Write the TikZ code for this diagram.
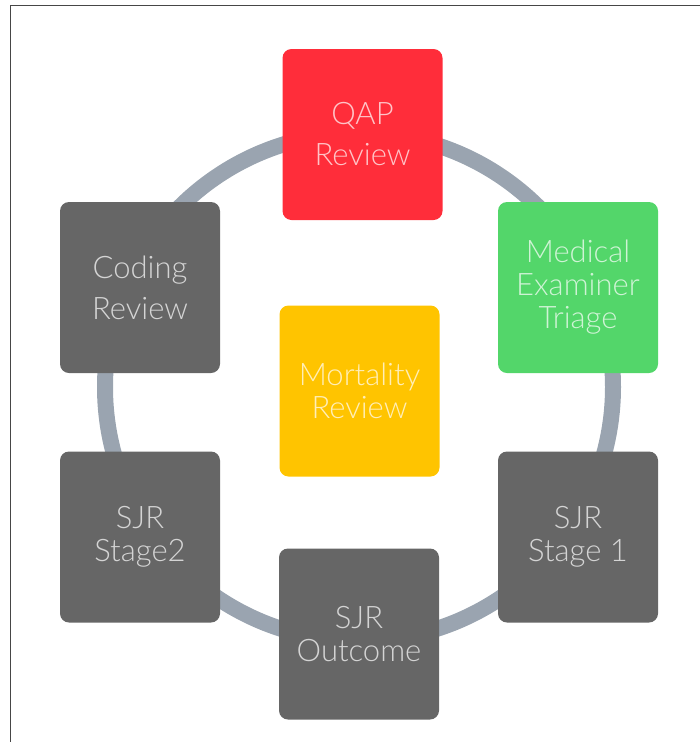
\documentclass[tikz,border=0pt]{standalone}
\usepackage{fontspec}
\IfFontExistsTF{Lato Light}
  {\setmainfont{Lato Light}}
  {\setmainfont{Liberation Sans}}
\begin{document}
\begin{tikzpicture}[x=1pt,y=-1pt,
  stepbox/.style={rectangle, rounded corners=9pt, inner sep=0pt,
    minimum width=160pt, minimum height=171pt, align=center,
    text=white, text opacity=0.72,
    font=\fontsize{31}{33}\selectfont},
  wide/.style={font=\fontsize{31}{41}\selectfont},
  ring/.style={draw=ringgray, line width=16pt}]
\definecolor{ringgray}{RGB}{154,164,176}
\definecolor{qapred}{RGB}{255,45,58}
\definecolor{megreen}{RGB}{83,214,106}
\definecolor{mortyellow}{RGB}{255,196,0}
\definecolor{boxgray}{RGB}{102,102,102}
\definecolor{framegray}{RGB}{70,70,70}
\useasboundingbox (0,0) rectangle (700,742);

% outer frame (top and left edges)
\coordinate (fbl) at (10.5,742);
\coordinate (ftl) at (10.5,5.5);
\coordinate (ftr) at (700,5.5);
\draw[framegray, line width=1pt] (fbl) -- (ftl) -- (ftr);

% the cycle ring behind the boxes
\coordinate (hub) at (359,387);
\draw[ring] (hub) circle [radius=254pt];

% process steps
\node[stepbox, wide, fill=qapred]    (qap)     at (362.5,134.5) {QAP\\Review};
\node[stepbox, fill=megreen]         (me)      at (578,287.5)   {Medical\\Examiner\\Triage};
\node[stepbox, fill=boxgray]         (stage1)  at (578,537)     {SJR\\Stage 1};
\node[stepbox, fill=boxgray]         (outcome) at (359,634)     {SJR\\Outcome};
\node[stepbox, fill=boxgray]         (stage2)  at (140,537)     {SJR\\Stage2};
\node[stepbox, wide, fill=boxgray]   (coding)  at (140,287.5)   {Coding\\Review};
\node[stepbox, fill=mortyellow]      (mort)    at (359.5,391)   {Mortality\\Review};
\end{tikzpicture}
\end{document}
